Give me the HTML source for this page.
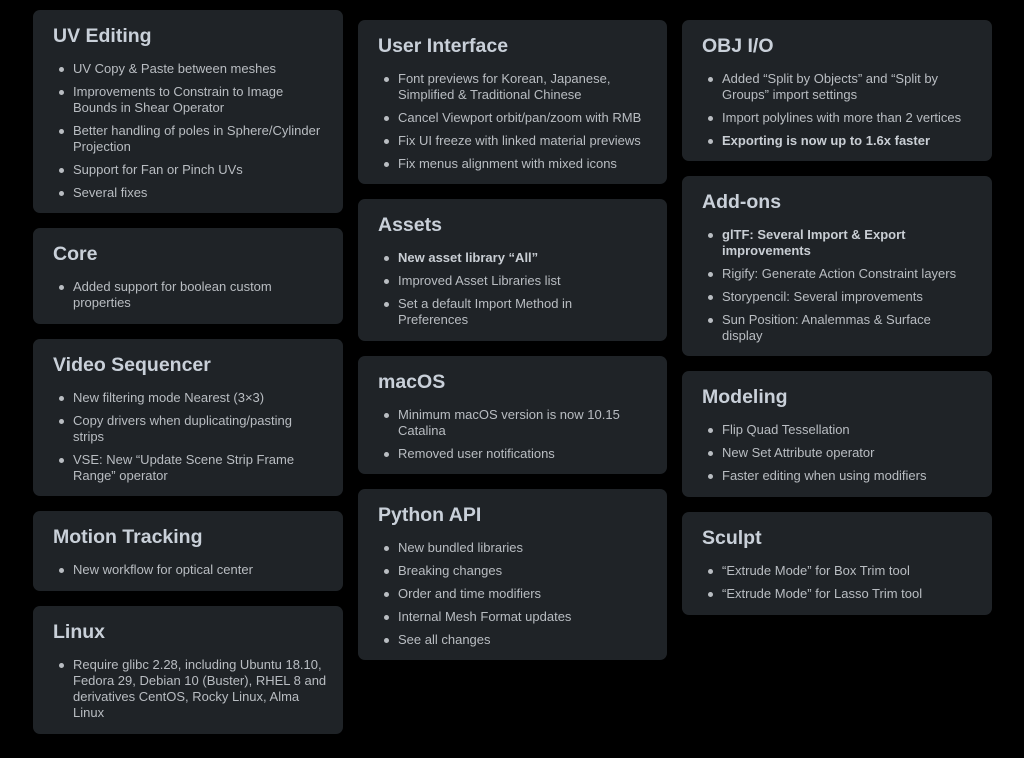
<!DOCTYPE html>
<html><head><meta charset="utf-8"><style>
body{margin:0;background:#000;width:1024px;height:758px;overflow:hidden;font-family:"Liberation Sans",sans-serif;}
.c{position:absolute;background:#1f2327;border-radius:7px;box-sizing:border-box;padding:14px 0 0 20px;}
.c h2{margin:0;font-size:19.5px;line-height:24px;font-weight:bold;color:#c9d0d9;}
.c ul{margin:13px 0 0 0;padding:0;list-style:none;}
.c li{position:relative;padding-left:20px;font-size:13px;line-height:16px;color:#b9bdc2;margin-bottom:7px;white-space:nowrap;}
.c li:before{content:"";position:absolute;left:6px;top:6px;width:5px;height:5px;border-radius:50%;background:#b9bdc2;}
.c li.b{font-weight:bold;color:#c9ced4;}
</style></head><body>
<div class="c" style="left:33px;top:10px;width:310px;height:203px"><h2>UV Editing</h2><ul>
<li>UV Copy &amp; Paste between meshes</li>
<li>Improvements to Constrain to Image<br>Bounds in Shear Operator</li>
<li>Better handling of poles in Sphere/Cylinder<br>Projection</li>
<li>Support for Fan or Pinch UVs</li>
<li>Several fixes</li></ul></div>
<div class="c" style="left:33px;top:228px;width:310px;height:96px"><h2>Core</h2><ul>
<li>Added support for boolean custom<br>properties</li></ul></div>
<div class="c" style="left:33px;top:339px;width:310px;height:157px"><h2>Video Sequencer</h2><ul>
<li>New filtering mode Nearest (3×3)</li>
<li>Copy drivers when duplicating/pasting<br>strips</li>
<li>VSE: New “Update Scene Strip Frame<br>Range” operator</li></ul></div>
<div class="c" style="left:33px;top:511px;width:310px;height:80px"><h2>Motion Tracking</h2><ul>
<li>New workflow for optical center</li></ul></div>
<div class="c" style="left:33px;top:606px;width:310px;height:128px"><h2>Linux</h2><ul>
<li>Require glibc 2.28, including Ubuntu 18.10,<br>Fedora 29, Debian 10 (Buster), RHEL 8 and<br>derivatives CentOS, Rocky Linux, Alma<br>Linux</li></ul></div>

<div class="c" style="left:358px;top:20px;width:309px;height:164px"><h2>User Interface</h2><ul>
<li>Font previews for Korean, Japanese,<br>Simplified &amp; Traditional Chinese</li>
<li>Cancel Viewport orbit/pan/zoom with RMB</li>
<li>Fix UI freeze with linked material previews</li>
<li>Fix menus alignment with mixed icons</li></ul></div>
<div class="c" style="left:358px;top:199px;width:309px;height:142px"><h2>Assets</h2><ul>
<li class="b">New asset library “All”</li>
<li>Improved Asset Libraries list</li>
<li>Set a default Import Method in<br>Preferences</li></ul></div>
<div class="c" style="left:358px;top:356px;width:309px;height:118px"><h2>macOS</h2><ul>
<li>Minimum macOS version is now 10.15<br>Catalina</li>
<li>Removed user notifications</li></ul></div>
<div class="c" style="left:358px;top:489px;width:309px;height:171px"><h2>Python API</h2><ul>
<li>New bundled libraries</li>
<li>Breaking changes</li>
<li>Order and time modifiers</li>
<li>Internal Mesh Format updates</li>
<li>See all changes</li></ul></div>

<div class="c" style="left:682px;top:20px;width:310px;height:141px"><h2>OBJ I/O</h2><ul>
<li>Added “Split by Objects” and “Split by<br>Groups” import settings</li>
<li>Import polylines with more than 2 vertices</li>
<li class="b">Exporting is now up to 1.6x faster</li></ul></div>
<div class="c" style="left:682px;top:176px;width:310px;height:180px"><h2>Add-ons</h2><ul>
<li class="b">glTF: Several Import &amp; Export<br>improvements</li>
<li>Rigify: Generate Action Constraint layers</li>
<li>Storypencil: Several improvements</li>
<li>Sun Position: Analemmas &amp; Surface<br>display</li></ul></div>
<div class="c" style="left:682px;top:371px;width:310px;height:126px"><h2>Modeling</h2><ul>
<li>Flip Quad Tessellation</li>
<li>New Set Attribute operator</li>
<li>Faster editing when using modifiers</li></ul></div>
<div class="c" style="left:682px;top:512px;width:310px;height:103px"><h2>Sculpt</h2><ul>
<li>“Extrude Mode” for Box Trim tool</li>
<li>“Extrude Mode” for Lasso Trim tool</li></ul></div>
</body></html>
